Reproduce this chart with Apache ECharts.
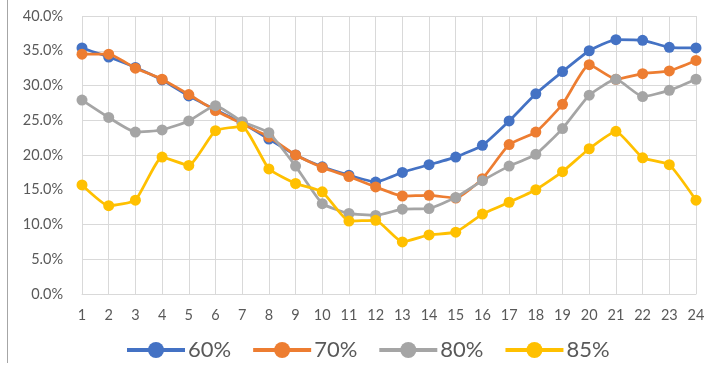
<!DOCTYPE html>
<html>
<head>
<meta charset="utf-8">
<script src="https://cdn.jsdelivr.net/npm/echarts@6/dist/echarts.min.js"></script>
<style>
  html, body { margin: 0; padding: 0; background: #fff; }
  #chart { width: 710px; height: 365px; }
</style>
</head>
<body>
<div id="chart"></div>
<script>
// Hours of the day (1..24)
const hours = ['1','2','3','4','5','6','7','8','9','10','11','12','13','14','15','16','17','18','19','20','21','22','23','24'];

// Share per hour for each level (percent)
const s60 = [35.4,34.1,32.6,30.8,28.5,26.5,24.6,22.3,20.0,18.3,17.1,16.1,17.5,18.6,19.7,21.4,24.9,28.8,32.0,35.0,36.6,36.5,35.5,35.4];
const s70 = [34.5,34.5,32.5,30.9,28.7,26.4,24.5,22.6,20.0,18.2,16.9,15.4,14.1,14.2,13.8,16.6,21.5,23.3,27.3,33.0,30.9,31.7,32.1,33.6];
const s80 = [27.9,25.4,23.3,23.6,24.9,27.1,24.8,23.2,18.4,13.0,11.6,11.3,12.2,12.3,13.9,16.3,18.4,20.1,23.8,28.6,30.9,28.4,29.3,30.9];
const s85 = [15.7,12.7,13.5,19.7,18.5,23.5,24.1,18.0,15.9,14.7,10.5,10.6,7.5,8.5,8.9,11.5,13.2,15.0,17.6,20.9,23.4,19.6,18.6,13.5];

const seriesNames = ['60%', '70%', '80%', '85%'];
const seriesColors = ['#4472C4', '#ED7D31', '#A5A5A5', '#FFC000'];
const seriesData = [s60, s70, s80, s85];

const chart = echarts.init(document.getElementById('chart'), null, { renderer: 'canvas' });

const textColor = '#595959';
const fontFamily = 'Lato, "Liberation Sans", sans-serif';

chart.setOption({
  animation: false,
  backgroundColor: '#ffffff',
  textStyle: { fontFamily: fontFamily },
  grid: { left: 82, right: 14, top: 16, bottom: 71, containLabel: false },
  xAxis: {
    type: 'category',
    data: hours,
    boundaryGap: false,
    axisLine: { show: true, lineStyle: { color: '#d9d9d9', width: 1 } },
    axisTick: { show: false },
    axisLabel: { color: textColor, fontSize: 14.5, margin: 14, fontFamily: fontFamily },
    splitLine: { show: true, lineStyle: { color: '#d9d9d9', width: 1 } }
  },
  yAxis: {
    type: 'value',
    min: 0,
    max: 40,
    interval: 5,
    axisLine: { show: false },
    axisTick: { show: false },
    axisLabel: {
      color: textColor, fontSize: 14.5, margin: 19, fontFamily: fontFamily,
      formatter: v => v.toFixed(1) + '%'
    },
    splitLine: { show: true, lineStyle: { color: '#d9d9d9', width: 1 } }
  },
  legend: {
    bottom: -1,
    left: 120,
    itemWidth: 58,
    itemHeight: 20,
    itemGap: 20,
    data: seriesNames,
    lineStyle: { width: 4 },
    textStyle: { color: textColor, fontSize: 22, fontFamily: fontFamily, padding: [0, 0, 0, -2] }
  },
  graphic: [{
    type: 'line',
    shape: { x1: 7.5, y1: 0, x2: 7.5, y2: 363 },
    style: { stroke: '#a6a6a6', lineWidth: 1 },
    silent: true
  }],
  series: seriesNames.map((name, i) => ({
    name: name,
    type: 'line',
    data: seriesData[i],
    color: seriesColors[i],
    symbol: 'circle',
    symbolSize: 11,
    lineStyle: { width: 2.75, color: seriesColors[i] },
    itemStyle: { color: seriesColors[i] },
    smooth: 0.15,
    z: 2 + i
  }))
});
</script>
</body>
</html>
